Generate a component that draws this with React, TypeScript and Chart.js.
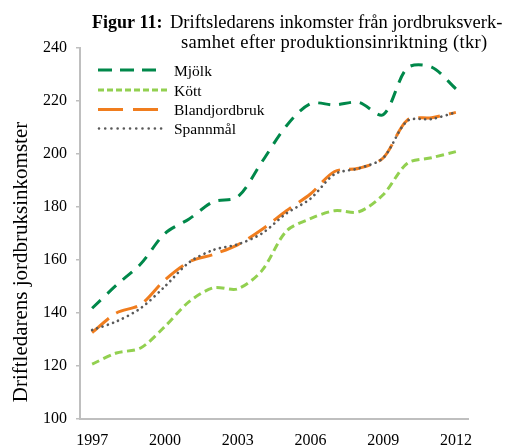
import React, { useEffect, useRef } from "react";
import { Chart, registerables } from "chart.js";

Chart.register(...registerables);

const years = ["1997","1998","1999","2000","2001","2002","2003","2004","2005","2006","2007","2008","2009","2010","2011","2012"];
const mjolk = [141.8, 150.5, 158.5, 170, 175.5, 182, 183.8, 197, 210.5, 219, 218.5, 219.5, 214.8, 232.5, 232.8, 224.6];
const kott = [120.7, 124.9, 126.8, 134.9, 144.3, 149.5, 149.1, 156, 170.8, 175.6, 178.6, 178.2, 184.6, 196.5, 198.6, 200.9];
const bland = [132.6, 140, 143.2, 152.5, 159.3, 162.1, 165.7, 171.5, 178.5, 184.9, 193.4, 194.6, 198.5, 212.8, 213.7, 215.7];
const spannmal = [133.6, 136.8, 141.8, 150, 159.1, 163.8, 165.9, 170, 177.5, 183.1, 192.4, 194.6, 198.5, 212.5, 213.2, 215.7];

const seriesNames = ["Mjölk", "Kött", "Blandjordbruk", "Spannmål"];
const colors = ["#00884A", "#92D050", "#F07D1E", "#595959"];

const titleBold = "Figur 11:";
const titleLine1 = "Driftsledarens inkomster från jordbruksverk-";
const titleLine2 = "samhet efter produktionsinriktning (tkr)";
const yTitle = "Driftledarens jordbruksinkomster";

const SERIF = '"Liberation Serif", "Times New Roman", serif';

const overlayPlugin = {
  id: "overlay",
  afterDraw(chart: any) {
    const ctx = chart.ctx as CanvasRenderingContext2D;
    ctx.save();
    ctx.fillStyle = "#000";
    ctx.textAlign = "left";
    ctx.textBaseline = "alphabetic";
    ctx.font = `bold 18px ${SERIF}`;
    ctx.fillText(titleBold, 92, 27.5);
    ctx.font = `18.5px ${SERIF}`;
    ctx.fillText(titleLine1, 170, 27.5);
    (ctx as any).letterSpacing = "0.3px";
    ctx.fillText(titleLine2, 181, 47.5);
    (ctx as any).letterSpacing = "0px";

    // y-axis title
    ctx.save();
    ctx.translate(27, 262);
    ctx.rotate(-Math.PI / 2);
    ctx.textAlign = "center";
    ctx.font = `21px ${SERIF}`;
    ctx.fillText(yTitle, 0, 0);
    ctx.restore();

    // legend
    const rows = [70, 90, 109.5, 128.5];
    const ends = [156, 167, 158, 167];
    const dashes = [[14, 8], [6, 3], [25, 10], [0.01, 6.2]];
    const widths = [3, 3, 3, 2.6];
    for (let i = 0; i < 4; i++) {
      ctx.beginPath();
      ctx.strokeStyle = colors[i];
      ctx.lineWidth = widths[i];
      ctx.lineCap = i === 3 ? "round" : "butt";
      ctx.setLineDash(dashes[i]);
      ctx.moveTo(i === 3 ? 99 : 98, rows[i]);
      ctx.lineTo(ends[i], rows[i]);
      ctx.stroke();
      ctx.setLineDash([]);
      ctx.fillStyle = "#000";
      ctx.font = `15.5px ${SERIF}`;
      ctx.fillText(seriesNames[i], 174, rows[i] + 5.5);
    }
    ctx.restore();
  },
};

export default function App() {
  const ref = useRef<HTMLCanvasElement | null>(null);
  useEffect(() => {
    if (!ref.current) return;
    const ds = (i: number, data: number[], dash: number[], width: number, order: number) => ({
      label: seriesNames[i],
      data,
      borderColor: colors[i],
      backgroundColor: colors[i],
      borderWidth: width,
      borderDash: dash,
      borderCapStyle: i === 3 ? "round" : "butt",
      pointRadius: 0,
      tension: 0.3,
      fill: false,
      order,
    });
    const chart = new Chart(ref.current, {
      type: "line",
      data: {
        labels: years,
        datasets: [
          ds(0, mjolk, [12, 9], 3, 3),
          ds(1, kott, [8, 4.5], 3, 2),
          ds(2, bland, [22, 9], 3, 1),
          ds(3, spannmal, [0.01, 5.5], 2.7, 0),
        ] as any,
      },
      options: {
        animation: false,
        responsive: false,
        maintainAspectRatio: false,
        layout: { padding: { top: 48, right: 37, left: 0, bottom: 0 } },
        plugins: {
          legend: { display: false },
          title: { display: false },
          tooltip: { enabled: false },
        },
        scales: {
          x: {
            type: "category",
            offset: true,
            grid: { display: true, drawOnChartArea: false, drawTicks: false, color: "#BFBFBF" },
            border: { display: true, color: "#BFBFBF", width: 2 },
            ticks: {
              autoSkip: false,
              maxRotation: 0,
              minRotation: 0,
              padding: 12,
              color: "#000",
              font: { family: SERIF, size: 16 },
              callback: (_v: any, i: number) => (i % 3 === 0 ? years[i] : ""),
            },
            afterFit: (s: any) => {
              s.height = 28;
            },
          },
          y: {
            type: "linear",
            min: 100,
            max: 240,
            grid: { display: true, drawOnChartArea: false, drawTicks: true, tickLength: 4, color: "#BFBFBF", lineWidth: 1.5 },
            border: { display: true, color: "#BFBFBF", width: 2 },
            ticks: {
              stepSize: 20,
              padding: 9,
              color: "#000",
              font: { family: SERIF, size: 16 },
            },
            afterFit: (s: any) => {
              s.width = 80;
            },
          },
        },
      },
      plugins: [overlayPlugin],
    });
    return () => chart.destroy();
  }, []);
  return (
    <div style={{ position: "fixed", left: 0, top: 0, width: 505, height: 447, background: "#fff" }}>
      <canvas ref={ref} width={505} height={447} style={{ display: "block", width: 505, height: 447 }} />
    </div>
  );
}
